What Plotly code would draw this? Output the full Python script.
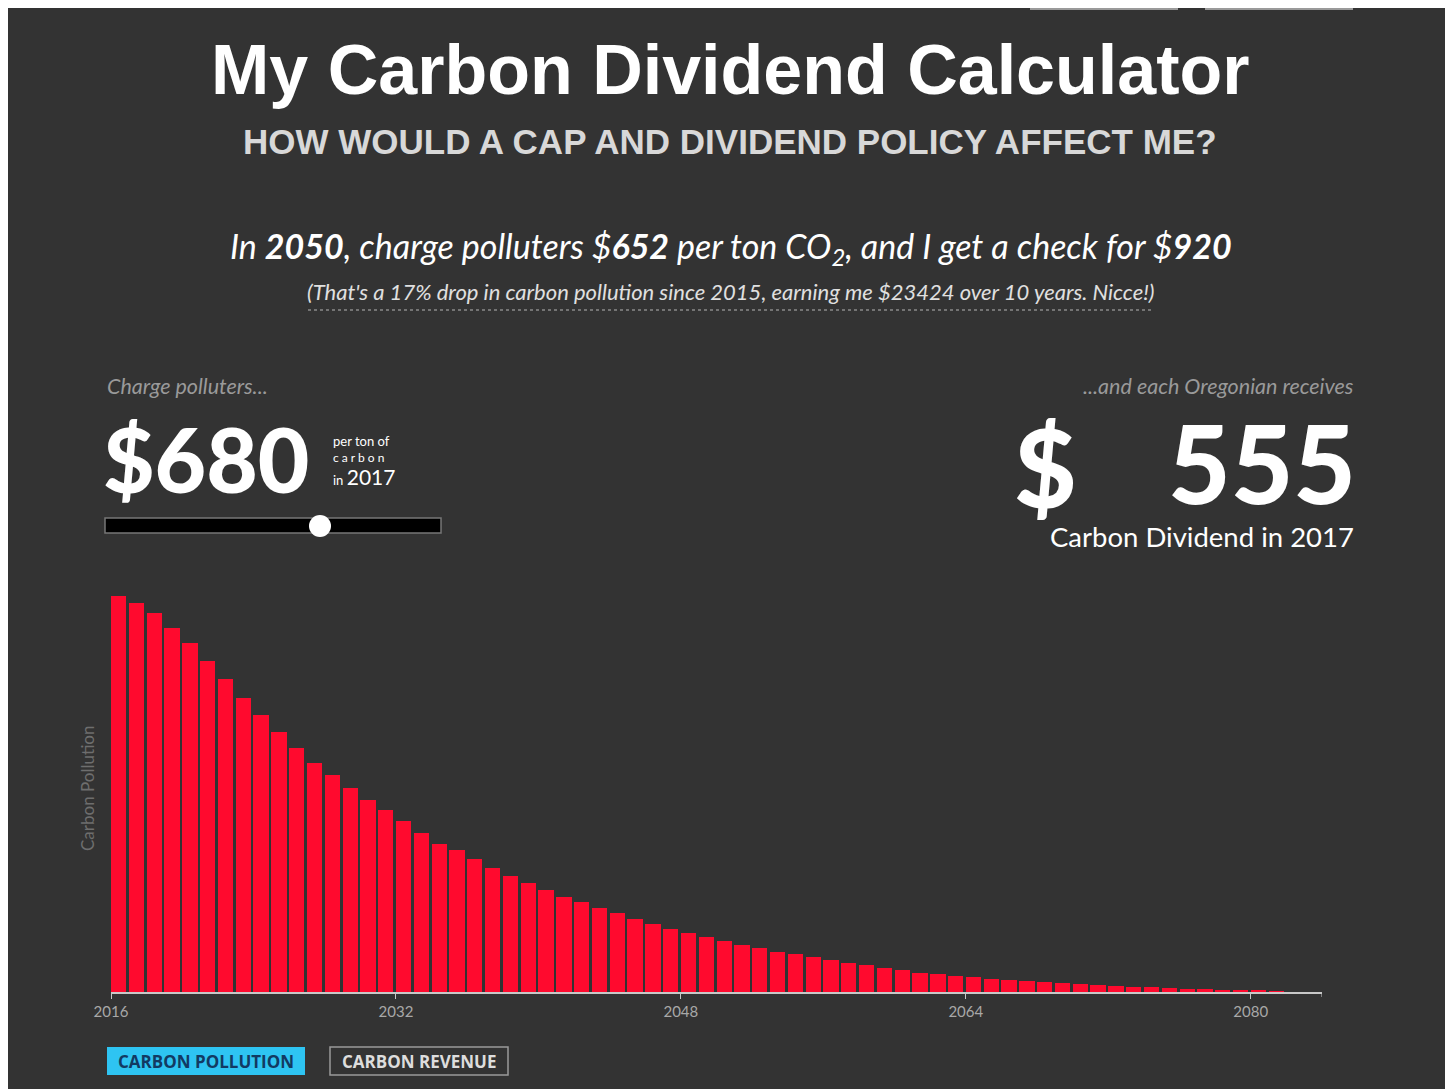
import plotly.graph_objects as go

# ---------------- data ----------------
years = list(range(2016, 2082))
carbon_pollution = [396, 389, 379, 364, 349, 331, 313, 294, 277, 260,
                    244, 229, 217, 204, 192, 182, 171, 159, 148, 142,
                    133, 124, 116, 109, 102, 95, 90, 84, 79, 73,
                    68, 63, 59, 55, 51, 47, 44, 40, 38, 35,
                    32, 29, 27, 24, 22, 19, 18, 16, 15, 13,
                    12, 11, 10, 9, 8, 7, 6, 5, 5, 4,
                    3, 3, 2, 2, 1.5, 1]
tick_years = [2016, 2032, 2048, 2064, 2080]
tick_labels = ["2016", "2032", "2048", "2064", "2080"]
axis_end_year = 2084

title_text = "My Carbon Dividend Calculator"
subtitle_text = "HOW WOULD A CAP AND DIVIDEND POLICY AFFECT ME?"
sentence_text = ("In <b>2050</b>, charge polluters $<b>652</b> per ton CO<sub>2</sub>, "
                 "and I get a check for $<b>920</b>")
paren_text = ("(That's a 17% drop in carbon pollution since 2015, "
              "earning me $23424 over 10 years. Nicce!)")
price_value = "$680"
dividend_value = "555"

# ---------------- geometry helpers (page pixel -> paper) ----------------
OX, OY = 8, 8            # page body margin
FW, FH = 1439, 1081      # figure size
L, R, T, B = 111, 1322, 590, 992   # plot area in page pixels
PW, PH = R - L, B - T


def px(x):
    return (x - L) / PW


def py(y):
    return (B - y) / PH


BG = "#333333"

fig = go.Figure()
fig.add_trace(go.Bar(
    x=years, y=carbon_pollution, offset=0, width=0.86,
    marker=dict(color="#ff0a2e", line=dict(width=0)),
    hoverinfo="x+y", name="Carbon Pollution",
))

shapes = []
# cut-off buttons at top
for x0, x1 in [(1030, 1178), (1205, 1353)]:
    shapes.append(dict(type="rect", xref="paper", yref="paper", layer="below",
                       x0=px(x0), x1=px(x1), y0=py(7), y1=py(10),
                       fillcolor="#9a9a9a", line=dict(width=0)))
# end tick of the axis
shapes.append(dict(type="line", xref="x", yref="paper",
                   x0=axis_end_year, x1=axis_end_year, y0=py(992), y1=py(997),
                   line=dict(color="#c8c8c8", width=1)))
# dotted underline
shapes.append(dict(type="line", xref="paper", yref="paper",
                   x0=px(308), x1=px(1153), y0=py(310), y1=py(310),
                   line=dict(color="#8a8a8a", width=1.5, dash="dot")))
# slider
shapes.append(dict(type="rect", xref="paper", yref="paper",
                   x0=px(105), x1=px(441), y0=py(518), y1=py(533),
                   fillcolor="#000000", line=dict(color="#777777", width=1.5)))
shapes.append(dict(type="circle", xref="paper", yref="paper",
                   x0=px(309), x1=px(331), y0=py(515), y1=py(537),
                   fillcolor="#ffffff", line=dict(color="#ffffff", width=0)))
# buttons
shapes.append(dict(type="rect", xref="paper", yref="paper",
                   x0=px(107), x1=px(305), y0=py(1047), y1=py(1075),
                   fillcolor="#2ec4f2", line=dict(width=0)))
shapes.append(dict(type="rect", xref="paper", yref="paper",
                   x0=px(330), x1=px(508), y0=py(1047), y1=py(1075),
                   fillcolor=BG, line=dict(color="#9a9a9a", width=1.5)))

ann = []


def text(x, y, s, size, color="#ffffff", family="Lato", xanchor="center",
         weight="normal", style="normal", textangle=0):
    ann.append(dict(x=px(x), y=py(y), xref="paper", yref="paper", text=s,
                    showarrow=False, xanchor=xanchor, yanchor="middle",
                    textangle=textangle,
                    font=dict(size=size, color=color, family=family,
                              weight=weight, style=style)))


text(730, 70, title_text, 70, family="Liberation Sans, sans-serif", weight="bold")
text(730, 141, subtitle_text, 35, color="#d8d8d8",
     family="Liberation Sans, sans-serif", weight="bold")
text(731, 248, sentence_text, 34, family="Lato", style="italic")
text(731, 291, paren_text, 22, color="#e0e0e0", family="Lato", style="italic")

text(105, 386, "Charge polluters...", 21.5, color="#9a9a9a", family="Lato",
     xanchor="left", style="italic")
text(101, 458, price_value, 89, family="Lato", xanchor="left", weight=900)
text(331, 441, "per ton of", 13, family="Lato", xanchor="left")
text(331, 457, "c a r b o n", 12, family="Lato", xanchor="left")
text(331, 477, "in <span style='font-size:21px'>2017</span>", 13,
     family="Lato", xanchor="left")

text(1356, 386, "...and each Oregonian receives", 21.5, color="#9a9a9a",
     family="Lato", xanchor="right", style="italic")
text(1012, 466, "$", 108, family="Lato", xanchor="left", weight=900)
text(1358, 462, dividend_value, 108, family="Lato", xanchor="right", weight=900)
text(1356, 536, "Carbon Dividend in 2017", 27.5, family="Lato", xanchor="right")

text(87, 788, "Carbon Pollution", 17, color="#6e6e6e", family="Lato",
     textangle=-90)

text(206, 1061, "CARBON POLLUTION", 17, color="#123a63",
     family="Open Sans", weight="bold")
text(419, 1061, "CARBON REVENUE", 17, color="#dddddd",
     family="Open Sans", weight="bold")

fig.update_layout(
    width=FW, height=FH,
    margin=dict(l=L - OX, r=FW - (R - OX), t=T - OY, b=FH - (B - OY), pad=0),
    paper_bgcolor=BG, plot_bgcolor="rgba(0,0,0,0)",
    showlegend=False, bargap=0,
    shapes=shapes, annotations=ann,
    xaxis=dict(range=[2016, axis_end_year], tickmode="array", tickvals=tick_years,
               ticktext=tick_labels, showgrid=False, zeroline=False,
               showline=True, linecolor="#c8c8c8", linewidth=2,
               ticks="outside", ticklen=5, tickcolor="#c8c8c8", tickwidth=1,
               tickfont=dict(size=15, color="#a8a8a8", family="Lato"),
               fixedrange=True),
    yaxis=dict(range=[0, PH], showgrid=False, zeroline=False,
               showticklabels=False, showline=False, fixedrange=True),
)

fig.write_html("out.html")
